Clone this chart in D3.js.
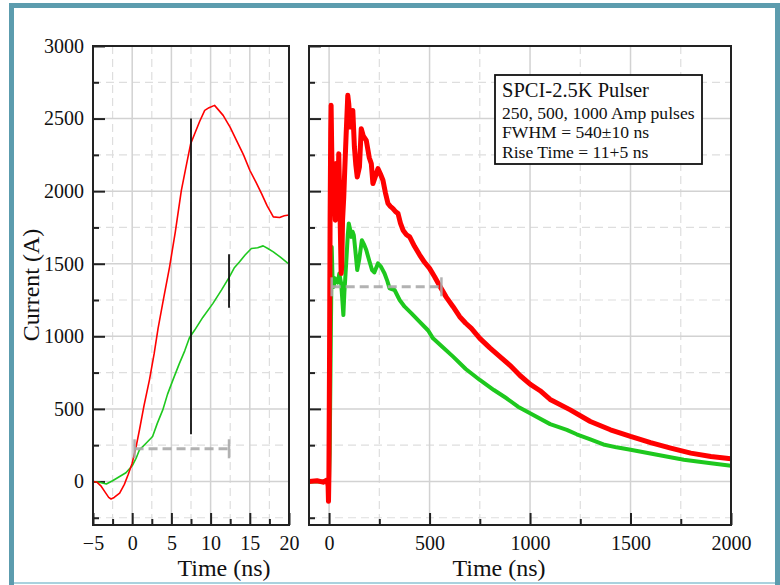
<!DOCTYPE html>
<html><head><meta charset="utf-8">
<script src="https://cdn.jsdelivr.net/npm/d3@7"></script>
<style>html,body{margin:0;padding:0;background:#fff;}svg{display:block;font-family:"Liberation Serif","Times New Roman",serif;}</style>
</head><body>
<script>
// ---------- data ----------
const leftRedT   = [-5,-4.5,-4,-3.5,-3,-2.7,-2.3,-1.6,-1,-0.5,0,0.5,0.93,1.5,2.2,2.8,3.3,4,4.77,5.5,6.27,6.8,7.46,7.97,8.6,9.25,9.8,10.5,11,11.6,12.5,13.3,14.2,15,15.8,16.5,17.2,18,18.8,19.4,20];
const leftRedV   = [0,-5,-30,-70,-110,-121,-110,-80,-20,50,126,240,356,520,700,880,1055,1260,1479,1720,2006,2150,2327,2396,2480,2556,2575,2591,2560,2522,2440,2350,2250,2144,2060,1983,1900,1823,1818,1830,1836];
const leftGreenT = [-5,-4.2,-3.3,-2.5,-1.6,-0.8,0,0.5,0.93,1.8,2.6,3.2,3.9,4.5,5.2,6,6.7,7.3,7.97,9,10.3,11.4,12.4,13,13.7,14.4,15.2,16,16.7,17.3,18,18.9,19.8,20];
const leftGreenV = [0,-5,-18,5,34,60,108,160,218,265,310,400,493,600,700,810,900,990,1043,1130,1227,1320,1410,1470,1513,1560,1605,1610,1623,1605,1582,1545,1506,1500];

const rightRedT = [-100,-60,-30,-10,-5,-3,-1,2,5,8,10,13,18,23,28,31,35,38,43,48,51,55,60,63,67,73,78,85,93,98,106,112,118,126,133,140,151,160,170,185,200,210,218,230,243,255,268,280,293,305,318,330,343,355,368,385,401,425,451,475,500,525,550,583,617,650,680,708,750,800,850,900,950,1000,1050,1100,1200,1300,1400,1500,1600,1700,1800,1900,2000];
const rightRedV = [0,5,-5,10,-30,-137,30,800,1800,2400,2591,2300,1869,2075,1900,1800,2190,2144,1846,2258,2075,1800,1433,1479,1800,1960,2150,2396,2660,2600,2442,2500,2556,2304,2180,2098,2166,2430,2380,2350,2230,2190,2052,2100,2155,2120,2075,1990,1915,1895,1880,1860,1846,1780,1731,1700,1685,1620,1560,1510,1468,1410,1348,1270,1204,1135,1090,1055,986,920,860,800,730,670,625,565,493,413,356,310,268,230,195,172,156];
const rightGreenT = [-100,-5,-2,3,8,13,18,23,28,35,43,51,55,60,66,71,76,85,93,98,104,110,117,123,130,140,150,163,175,185,200,214,225,243,258,276,290,301,326,351,376,410,451,493,517,570,617,680,750,820,883,940,1000,1100,1183,1232,1300,1365,1430,1500,1632,1765,1900,2000];
const rightGreenV = [0,0,-60,200,900,1616,1353,1341,1400,1387,1370,1433,1400,1364,1250,1146,1300,1502,1700,1777,1740,1685,1720,1697,1600,1456,1530,1662,1630,1594,1520,1456,1440,1502,1480,1433,1380,1330,1319,1250,1204,1158,1100,1040,986,920,860,775,699,630,573,515,470,395,355,325,290,255,235,218,184,149,126,108];

const leftXTicks  = [-5,0,5,10,15,20];
const leftXMinor  = [-2.5,2.5,7.5,12.5,17.5];
const rightXTicks = [0,500,1000,1500,2000];
const rightXMinor = [250,750,1250,1750];
const yTicks = [0,500,1000,1500,2000,2500,3000];
const yMinor = [-250,250,750,1250,1750,2250,2750];

// rise-time markers (left panel): [time, low, high]
const riseMarkers = [[7.5,325,2500],[12.35,1197,1566]];
// FWHM / rise intervals (dashed grey): [t0, t1, value]
const leftInterval  = [0.3, 12.35, 225];
const rightInterval = [13, 559, 1341];

const legendLines = ["SPCI-2.5K Pulser","250, 500, 1000 Amp pulses","FWHM = 540±10 ns","Rise Time = 11+5 ns"];

// ---------- layout ----------
const W = 780, H = 585;
const pTop = 46, pBot = 525;
const L = {x0:93, x1:289}, R = {x0:309, x1:731};
const RED = "#ff0000", GREEN = "#1ec81e";

const svg = d3.select("body").append("svg").attr("width",W).attr("height",H);

// outer frame
svg.append("path").attr("d","M11.5,585 V5.5 H777.5 V585").attr("fill","none").attr("stroke","#5c9cae").attr("stroke-width",5);
svg.append("line").attr("x1",14).attr("x2",775).attr("y1",583).attr("y2",583).attr("stroke","#a9d2de").attr("stroke-width",2);

const y = d3.scaleLinear().domain([-300,3000]).range([pBot, pTop]);
const xL = d3.scaleLinear().domain([-5,20]).range([L.x0, L.x1]);
const xR = d3.scaleLinear().domain([-100,2000]).range([R.x0, R.x1]);

function panel(x, P, xMajor, xMinor, labelY, titleX) {
  const g = svg.append("g");
  xMinor.forEach(v => g.append("line").attr("x1",x(v)).attr("x2",x(v)).attr("y1",pTop).attr("y2",pBot)
     .attr("stroke","#dedede").attr("stroke-width",1.2).attr("stroke-dasharray","8,5"));
  yMinor.forEach(v => g.append("line").attr("y1",y(v)).attr("y2",y(v)).attr("x1",P.x0).attr("x2",P.x1)
     .attr("stroke","#dedede").attr("stroke-width",1.2).attr("stroke-dasharray","8,5"));
  xMajor.forEach(v => g.append("line").attr("x1",x(v)).attr("x2",x(v)).attr("y1",pTop).attr("y2",pBot)
     .attr("stroke","#d2d2d2").attr("stroke-width",1.5));
  yTicks.forEach(v => g.append("line").attr("y1",y(v)).attr("y2",y(v)).attr("x1",P.x0).attr("x2",P.x1)
     .attr("stroke","#d2d2d2").attr("stroke-width",1.5));

  g.append("g").attr("transform",`translate(0,${pBot})`)
     .call(d3.axisBottom(x).tickValues(xMajor).tickSize(-12).tickPadding(11).tickFormat(d => d < 0 ? "\u2212" + Math.abs(d) : d));
  g.append("g").attr("transform",`translate(0,${pBot})`)
     .call(d3.axisBottom(x).tickValues(xMinor).tickSize(-6).tickFormat(""));
  g.append("g").attr("transform",`translate(${P.x0},0)`)
     .call(d3.axisLeft(y).tickValues(yTicks).tickSize(-12).tickPadding(9).tickFormat(labelY ? d3.format("d") : ""));
  g.append("g").attr("transform",`translate(${P.x0},0)`)
     .call(d3.axisLeft(y).tickValues(yMinor).tickSize(-6).tickFormat(""));
  g.selectAll(".domain").remove();
  g.selectAll(".tick line").attr("stroke","#222").attr("stroke-width",2);
  g.selectAll(".tick text").attr("font-family","Liberation Serif").attr("font-size",20).attr("fill","#111");

  g.append("text").attr("x",titleX).attr("y",576).attr("text-anchor","middle")
    .attr("font-size",24).attr("fill","#111").text("Time (ns)");
  return g;
}

const gL = panel(xL, L, leftXTicks, leftXMinor, true, 224);
const gR = panel(xR, R, rightXTicks, rightXMinor, false, 499);

const defs = svg.append("defs");
defs.append("clipPath").attr("id","cL").append("rect").attr("x",L.x0).attr("y",pTop).attr("width",L.x1-L.x0).attr("height",pBot-pTop);
defs.append("clipPath").attr("id","cR").append("rect").attr("x",R.x0).attr("y",pTop).attr("width",R.x1-R.x0).attr("height",pBot-pTop);

function drawLine(g, x, T, V, color, w, clip) {
  const data = T.map((t,i)=>[t,V[i]]);
  g.append("path").datum(data).attr("clip-path",`url(#${clip})`)
   .attr("fill","none").attr("stroke",color).attr("stroke-width",w).attr("stroke-linejoin","round")
   .attr("d", d3.line().x(d=>x(d[0])).y(d=>y(d[1])));
}

drawLine(gL, xL, leftGreenT, leftGreenV, GREEN, 1.6, "cL");
drawLine(gL, xL, leftRedT, leftRedV, RED, 1.6, "cL");
riseMarkers.forEach(m => gL.append("line").attr("x1",xL(m[0])).attr("x2",xL(m[0])).attr("y1",y(m[1])).attr("y2",y(m[2]))
   .attr("stroke","#111").attr("stroke-width",1.8));

function interval(g, x, iv) {
  const yy = y(iv[2]);
  g.append("line").attr("x1",x(iv[0])).attr("x2",x(iv[1])).attr("y1",yy).attr("y2",yy)
    .attr("stroke","#aaaaaa").attr("stroke-width",3).attr("stroke-dasharray","9,5").attr("opacity",0.9);
  [iv[0],iv[1]].forEach(t => g.append("line").attr("x1",x(t)).attr("x2",x(t)).attr("y1",yy-9.5).attr("y2",yy+9.5)
    .attr("stroke","#aaaaaa").attr("stroke-width",2.5).attr("opacity",0.9));
}
interval(gL, xL, leftInterval);

drawLine(gR, xR, rightGreenT, rightGreenV, GREEN, 4, "cR");
drawLine(gR, xR, rightRedT, rightRedV, RED, 5, "cR");
interval(gR, xR, rightInterval);

[L,R].forEach(P => svg.append("rect").attr("x",P.x0).attr("y",pTop).attr("width",P.x1-P.x0).attr("height",pBot-pTop)
  .attr("fill","none").attr("stroke","#222").attr("stroke-width",2));

svg.append("text").attr("transform","translate(39,285) rotate(-90)").attr("text-anchor","middle")
  .attr("font-size",24).attr("fill","#111").text("Current (A)");

const lg = svg.append("g");
lg.append("rect").attr("x",495).attr("y",75).attr("width",207).attr("height",89).attr("fill","#fff").attr("stroke","#111").attr("stroke-width",1.8);
const lys = [97,119,138,158], lfs = [20.5,17.6,17.6,17.6];
legendLines.forEach((s,i) => lg.append("text").attr("x",502).attr("y",lys[i]).attr("font-size",lfs[i]).attr("fill","#111").text(s));
</script>
</body></html>
